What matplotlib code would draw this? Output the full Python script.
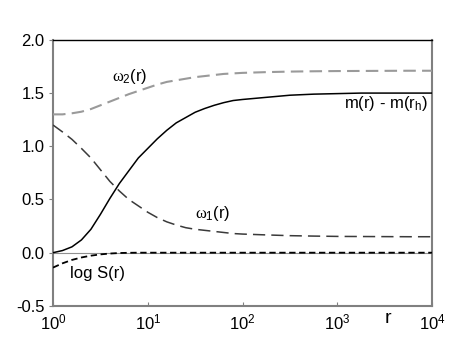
import numpy as np
import matplotlib
matplotlib.use("Agg")
import matplotlib.pyplot as plt

plt.rcParams['font.family'] = ['Liberation Sans', 'DejaVu Sans']
plt.rcParams['mathtext.fontset'] = 'custom'
plt.rcParams['mathtext.rm'] = 'Liberation Sans'
plt.rcParams['mathtext.it'] = 'Liberation Serif'
plt.rcParams['mathtext.default'] = 'it'

# log10(r) sample positions
log_r = [0.0, 0.1, 0.2, 0.3, 0.4, 0.5, 0.6, 0.7, 0.8, 0.9, 1.0,
         1.1, 1.2, 1.3, 1.4, 1.5, 1.6, 1.7, 1.8, 1.9, 2.0,
         2.25, 2.5, 2.75, 3.0, 3.25, 3.5, 3.75, 4.0]
m_diff = [0.00, 0.02, 0.055, 0.12, 0.22, 0.36, 0.51, 0.65, 0.77, 0.89, 0.98,
          1.07, 1.15, 1.22, 1.27, 1.32, 1.355, 1.385, 1.41, 1.43, 1.44,
          1.46, 1.48, 1.49, 1.495, 1.50, 1.50, 1.50, 1.50]
omega2 = [1.30, 1.30, 1.31, 1.325, 1.35, 1.385, 1.42, 1.455, 1.49, 1.52, 1.55,
          1.58, 1.605, 1.62, 1.635, 1.65, 1.66, 1.67, 1.68, 1.685, 1.69,
          1.697, 1.702, 1.705, 1.707, 1.708, 1.709, 1.71, 1.71]
omega1 = [1.20, 1.135, 1.065, 0.98, 0.89, 0.78, 0.67, 0.58, 0.50, 0.44, 0.38,
          0.33, 0.29, 0.26, 0.235, 0.22, 0.21, 0.20, 0.19, 0.18, 0.175,
          0.167, 0.16, 0.156, 0.153, 0.152, 0.151, 0.15, 0.15]
log_S = [-0.14, -0.10, -0.068, -0.045, -0.028, -0.016, -0.008, -0.003, -0.001, 0.0, 0.0,
         0.0, 0.0, 0.0, 0.0, 0.0, 0.0, 0.0, 0.0, 0.0, 0.0,
         0.0, 0.0, 0.0, 0.0, 0.0, 0.0, 0.0, 0.0]
x_ticks = [1, 10, 100, 1000, 10000]
x_tick_labels = [r'$\mathrm{10^{0}}$', r'$\mathrm{10^{1}}$', r'$\mathrm{10^{2}}$',
                 r'$\mathrm{10^{3}}$', r'$\mathrm{10^{4}}$']
y_ticks = [-0.5, 0.0, 0.5, 1.0, 1.5, 2.0]

r = 10 ** np.array(log_r)

fig = plt.figure(figsize=(4.53, 3.38), dpi=100)
ax = fig.add_axes([0.117, 0.095, 0.837, 0.787])

ax.axhline(0, color='#909090', lw=0.8, zorder=1)
ax.plot(r, omega2, color='#9a9a9a', lw=1.5, dashes=(6, 3), zorder=3)
ax.plot(r, m_diff, color='black', lw=1.1, zorder=4)
ax.plot(r, omega1, color='#3a3a3a', lw=1.1, dashes=(8, 4), zorder=3)
ax.plot(r, log_S, color='black', lw=1.3, dashes=(3.5, 2), zorder=3)

ax.set_xscale('log')
ax.set_xlim(1, 10000)
ax.set_ylim(-0.5, 2.0)
ax.set_xticks(x_ticks)
ax.set_xticklabels(x_tick_labels)
ax.minorticks_off()
ax.set_yticks(y_ticks)
ax.set_yticklabels([f'{v:.1f}' for v in y_ticks])

for s in ['left', 'bottom', 'right']:
    ax.spines[s].set_color('#808080')
    ax.spines[s].set_linewidth(1.5)
ax.spines['top'].set_color('black')
ax.spines['top'].set_linewidth(1.0)

ax.tick_params(axis='x', direction='in', length=3, color='#808080', labelsize=12, pad=5)
ax.tick_params(axis='y', direction='out', length=3, color='#808080', labelsize=12, pad=3)

ax.text(10 ** 0.81, 1.66, r'$\omega_2$(r)', fontsize=12, ha='center', va='center')
ax.text(10 ** 3.51, 1.40, r'm(r) - m(r$\mathrm{_h}$)', fontsize=12, ha='center', va='center')
ax.text(10 ** 1.69, 0.37, r'$\omega_1$(r)', fontsize=12, ha='center', va='center')
ax.text(10 ** 0.47, -0.20, 'log S(r)', fontsize=12, ha='center', va='center')
ax.text(10 ** 3.53, -0.54, 'r', fontsize=14, ha='center', va='top')

fig.savefig('out.png', dpi=100)
